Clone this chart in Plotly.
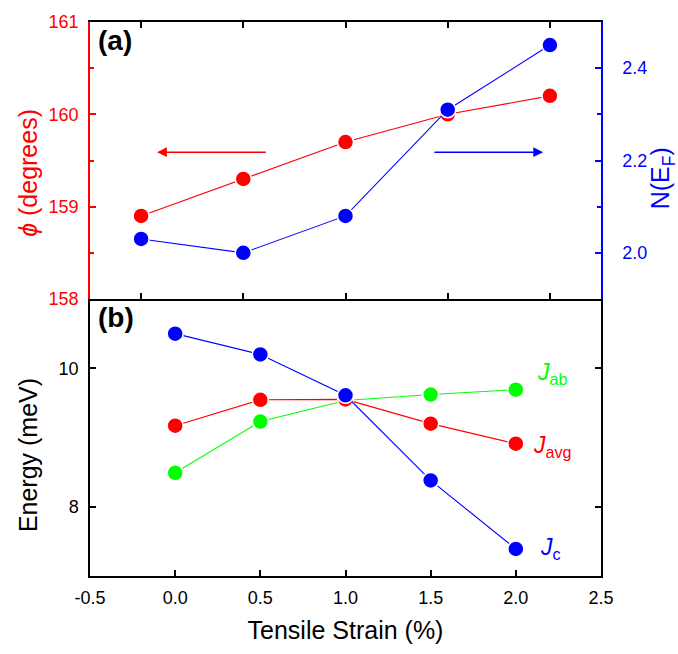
import plotly.graph_objects as go

# ---- data ----
strain_top = [-0.2, 0.4, 1.0, 1.6, 2.2]
phi_deg = [158.9, 159.3, 159.7, 160.0, 160.2]
n_ef = [2.03, 2.00, 2.08, 2.31, 2.45]

strain_bot = [0.0, 0.5, 1.0, 1.5, 2.0]
j_c = [10.50, 10.20, 9.61, 8.38, 7.39]
j_avg = [9.17, 9.545, 9.55, 9.20, 8.91]
j_ab = [8.49, 9.23, 9.535, 9.62, 9.69]

x_ticks_bottom = [-0.5, 0.0, 0.5, 1.0, 1.5, 2.0, 2.5]
x_ticklabels_bottom = ["-0.5", "0.0", "0.5", "1.0", "1.5", "2.0", "2.5"]
x_ticks_top = [-0.2, 0.4, 1.0, 1.6, 2.2]

RED = "#FF0000"
BLUE = "#0000FF"
GREEN = "#00FF00"
FONT = "Liberation Sans, Arial, sans-serif"


def series(x, y, color, xa, ya):
    return go.Scatter(
        x=x, y=y, xaxis=xa, yaxis=ya, mode="lines+markers",
        line=dict(color=color, width=1.1),
        marker=dict(color=color, size=16, line=dict(color="white", width=1.5)),
        showlegend=False, cliponaxis=False,
    )


fig = go.Figure()
fig.add_trace(series(strain_top, phi_deg, RED, "x2", "y2"))
fig.add_trace(series(strain_top, n_ef, BLUE, "x2", "y3"))
fig.add_trace(series(strain_bot, j_ab, GREEN, "x", "y"))
fig.add_trace(series(strain_bot, j_avg, RED, "x", "y"))
fig.add_trace(series(strain_bot, j_c, BLUE, "x", "y"))

tickfont = dict(family=FONT, size=18)

fig.update_layout(
    width=678, height=654,
    margin=dict(l=90, r=77, t=13, b=78),
    paper_bgcolor="white", plot_bgcolor="white",
    font=dict(family=FONT, color="black"),
    xaxis=dict(
        domain=[0, 1], anchor="y", range=[-0.5, 2.5],
        tickvals=x_ticks_bottom, ticktext=x_ticklabels_bottom,
        ticks="inside", ticklen=6, tickcolor="black", tickwidth=1.5,
        showline=True, linecolor="black", linewidth=1.5, showgrid=False, zeroline=False,
        tickfont=tickfont, ticklabelstandoff=5,
        title=dict(text="Tensile Strain (%)", font=dict(family=FONT, size=25), standoff=14),
    ),
    yaxis=dict(
        domain=[0, 0.5], anchor="x", range=[7, 11], tickvals=[8, 10],
        ticks="inside", ticklen=6, tickcolor="black", tickwidth=1.5, mirror="ticks",
        showline=True, linecolor="black", linewidth=1.5, showgrid=False, zeroline=False,
        tickfont=tickfont, ticklabelstandoff=6,
    ),
    xaxis2=dict(
        domain=[0, 1], anchor="y2", range=[-0.5, 2.5], tickvals=x_ticks_top,
        showticklabels=False, ticks="inside", ticklen=6, tickcolor="black", tickwidth=1.5,
        mirror="ticks", showline=True, linecolor="black", linewidth=1.5,
        showgrid=False, zeroline=False,
    ),
    yaxis2=dict(
        domain=[0.5, 1], anchor="x2", range=[158, 161], dtick=1,
        ticks="inside", ticklen=6, tickcolor=RED, tickwidth=1.5,
        minor=dict(dtick=0.5, ticks="inside", ticklen=4, tickcolor=RED, tickwidth=1.5),
        showline=True, linecolor=RED, linewidth=1.5, showgrid=False, zeroline=False,
        tickfont=dict(family=FONT, size=18, color=RED), ticklabelstandoff=6,
    ),
    yaxis3=dict(
        overlaying="y2", anchor="x2", side="right", range=[1.9, 2.5],
        tickvals=[2.0, 2.2, 2.4], tickformat=".1f",
        ticks="inside", ticklen=6, tickcolor=BLUE, tickwidth=1.5,
        minor=dict(dtick=0.1, ticks="inside", ticklen=4, tickcolor=BLUE, tickwidth=1.5),
        showline=True, linecolor=BLUE, linewidth=1.5, showgrid=False, zeroline=False,
        tickfont=dict(family=FONT, size=18, color=BLUE), ticklabelstandoff=16,
    ),
)

annotations = [
    # panel labels
    dict(text="<b>(a)</b>", xref="x2 domain", yref="y2 domain", x=0.012, y=0.995,
         xanchor="left", yanchor="top", showarrow=False, font=dict(family=FONT, size=28)),
    dict(text="<b>(b)</b>", xref="x domain", yref="y domain", x=0.012, y=0.995,
         xanchor="left", yanchor="top", showarrow=False, font=dict(family=FONT, size=28)),
    # y titles
    dict(text="<i>ϕ</i> (degrees)", xref="paper", yref="paper", x=-0.121, y=0.728,
         xanchor="center", yanchor="middle",
         textangle=-90, showarrow=False, font=dict(family=FONT, size=25, color=RED)),
    dict(text="Energy (meV)", xref="paper", yref="paper", x=-0.121, y=0.2185,
         xanchor="center", yanchor="middle",
         textangle=-90, showarrow=False, font=dict(family=FONT, size=25, color="black")),
    dict(text="N(E<sub>F</sub>)", xref="paper", yref="paper", x=1.121, y=0.7176,
         xanchor="center", yanchor="middle",
         textangle=-90, showarrow=False, font=dict(family=FONT, size=25, color=BLUE)),
    # series labels
    dict(text="<i>J</i><sub>ab</sub>", xref="x", yref="y", x=2.115, y=9.93,
         xanchor="left", showarrow=False, font=dict(family=FONT, size=23, color=GREEN)),
    dict(text="<i>J</i><sub>avg</sub>", xref="x", yref="y", x=2.09, y=8.87,
         xanchor="left", showarrow=False, font=dict(family=FONT, size=23, color=RED)),
    dict(text="<i>J</i><sub>c</sub>", xref="x", yref="y", x=2.13, y=7.40,
         xanchor="left", showarrow=False, font=dict(family=FONT, size=23, color=BLUE)),
    # arrows
    dict(x=-0.106, y=159.59, ax=0.541, ay=159.59, xref="x2", yref="y2", axref="x2", ayref="y2",
         text="", showarrow=True, arrowhead=2, arrowsize=1.3, arrowwidth=1.5, arrowcolor=RED),
    dict(x=2.16, y=159.59, ax=1.513, ay=159.59, xref="x2", yref="y2", axref="x2", ayref="y2",
         text="", showarrow=True, arrowhead=2, arrowsize=1.3, arrowwidth=1.5, arrowcolor=BLUE),
]
fig.update_layout(annotations=annotations)

fig.write_html("out.html")
